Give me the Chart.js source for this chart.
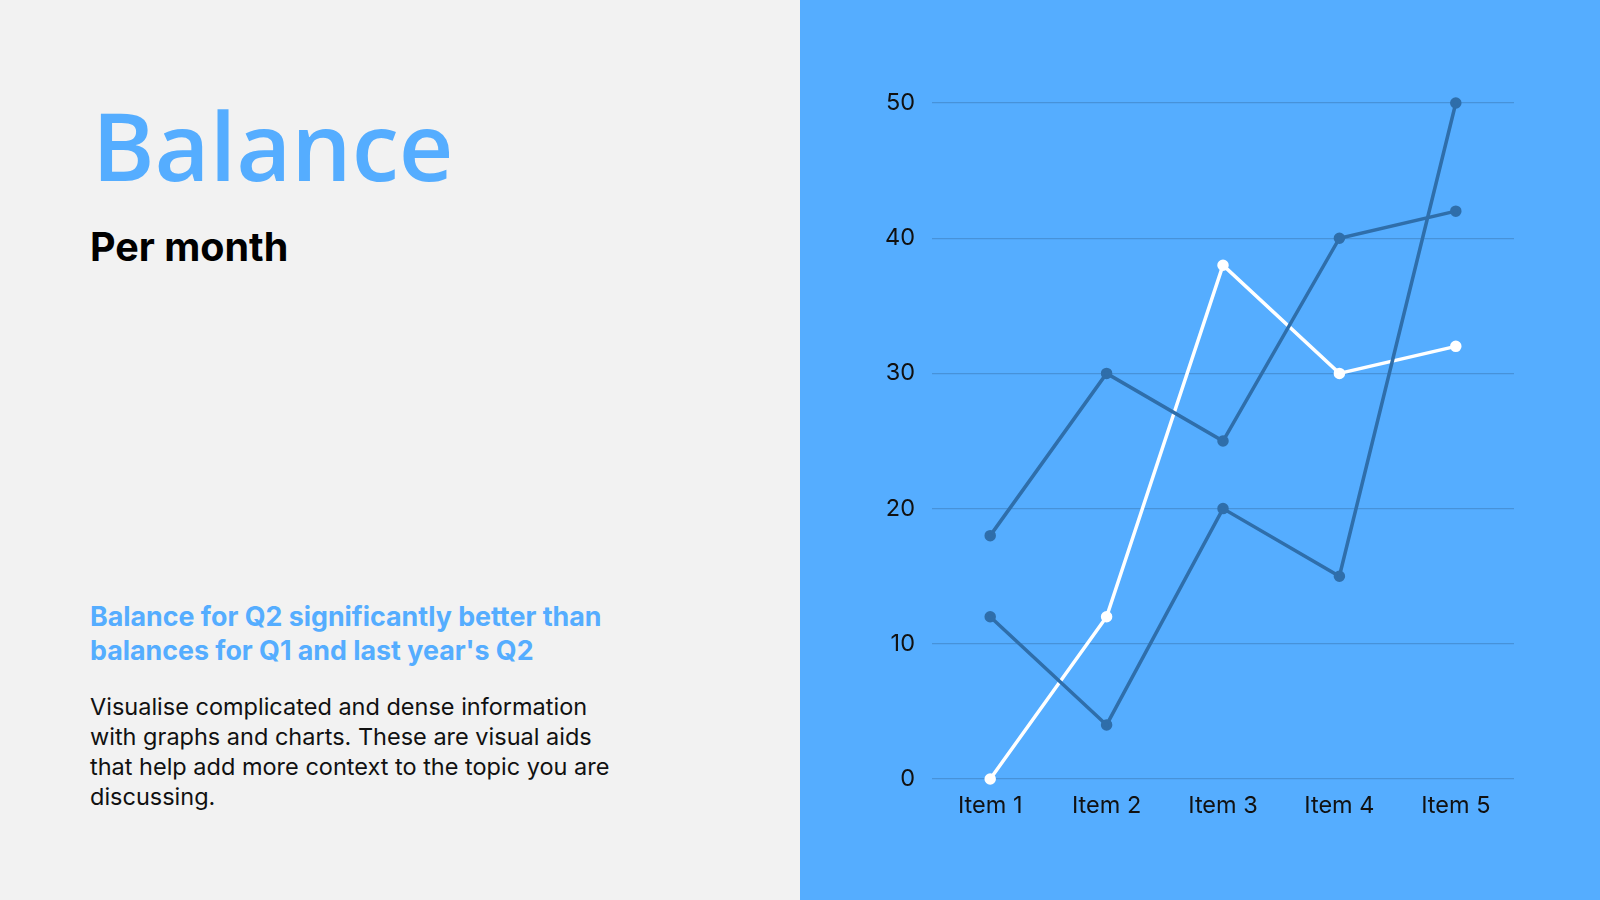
<!DOCTYPE html>
<html>
<head>
<meta charset="utf-8">
<script src="https://cdn.jsdelivr.net/npm/chart.js@4.4.1/dist/chart.umd.min.js"></script>
<style>
    html, body { margin: 0; padding: 0; }
    body { width: 1600px; height: 900px; position: relative; overflow: hidden; background: #f2f2f2; font-family: Inter, sans-serif; }
    #right_panel { position: absolute; left: 800px; top: 0; width: 800px; height: 900px; background: #55adff; }
    #chart_box { position: absolute; left: 800px; top: 0; width: 800px; height: 900px; }
    .title { position: absolute; left: 92px; top: 97px; font-family: "Open Sans", sans-serif; font-weight: 600; font-size: 95px; line-height: 1; color: #55adff; }
    .subtitle { position: absolute; left: 90px; top: 228px; font-weight: 700; font-size: 39.5px; line-height: 1; color: #000; }
    .highlight { position: absolute; left: 90px; top: 599px; width: 600px; font-weight: 700; font-size: 26.8px; line-height: 34px; color: #55adff; }
    .body_text { position: absolute; left: 90px; top: 692px; width: 540px; font-size: 23.5px; line-height: 30px; color: #111; }
</style>
</head>
<body>
<div id="right_panel"></div>
<div class="title">Balance</div>
<div class="subtitle">Per month</div>
<div class="highlight">Balance for Q2 significantly better than<br>balances for Q1 and last year's Q2</div>
<div class="body_text">Visualise complicated and dense information with graphs and charts. These are visual aids that help add more context to the topic you are discussing.</div>
<div id="chart_box"><canvas id="balance_chart"></canvas></div>
<script>
const item_labels = ["Item 1", "Item 2", "Item 3", "Item 4", "Item 5"];
const series_white = [0, 12, 38, 30, 32];
const series_dark_a = [18, 30, 25, 40, 42];
const series_dark_b = [12, 4, 20, 15, 50];
const y_ticks = [0, 10, 20, 30, 40, 50];

const dark_colour = "#2f6eaa";
const white_colour = "#ffffff";
const tick_font = { family: "Inter, sans-serif", size: 23.5 };

function makeDataset(values, colour) {
    return {
        data: values,
        borderColor: colour,
        backgroundColor: colour,
        borderWidth: 3.5,
        pointRadius: 4,
        pointHoverRadius: 4,
        tension: 0,
        clip: false
    };
}

const balance_canvas = document.getElementById("balance_chart");
const balance_chart = new Chart(balance_canvas.getContext("2d"), {
    type: "line",
    data: {
        labels: item_labels,
        datasets: [
            makeDataset(series_dark_b, dark_colour),
            makeDataset(series_dark_a, dark_colour),
            makeDataset(series_white, white_colour)
        ]
    },
    options: {
        responsive: true,
        maintainAspectRatio: false,
        animation: false,
        layout: { padding: { top: 103, right: 86, bottom: 0, left: 0 } },
        plugins: { legend: { display: false }, tooltip: { enabled: false } },
        scales: {
            x: {
                offset: true,
                grid: { display: false },
                border: { display: false },
                ticks: { color: "#111", font: tick_font, padding: 5 },
                afterFit: function(scale) { scale.height = 121; }
            },
            y: {
                min: 0,
                max: 50,
                afterBuildTicks: function(scale) { scale.ticks = y_ticks.map(v => ({ value: v })); },
                grid: { color: "#4792d9", lineWidth: 1.2, drawTicks: false },
                border: { display: false },
                ticks: { color: "#111", font: tick_font, padding: 17 },
                afterFit: function(scale) { scale.width = 132; }
            }
        }
    }
});
</script>
</body>
</html>
